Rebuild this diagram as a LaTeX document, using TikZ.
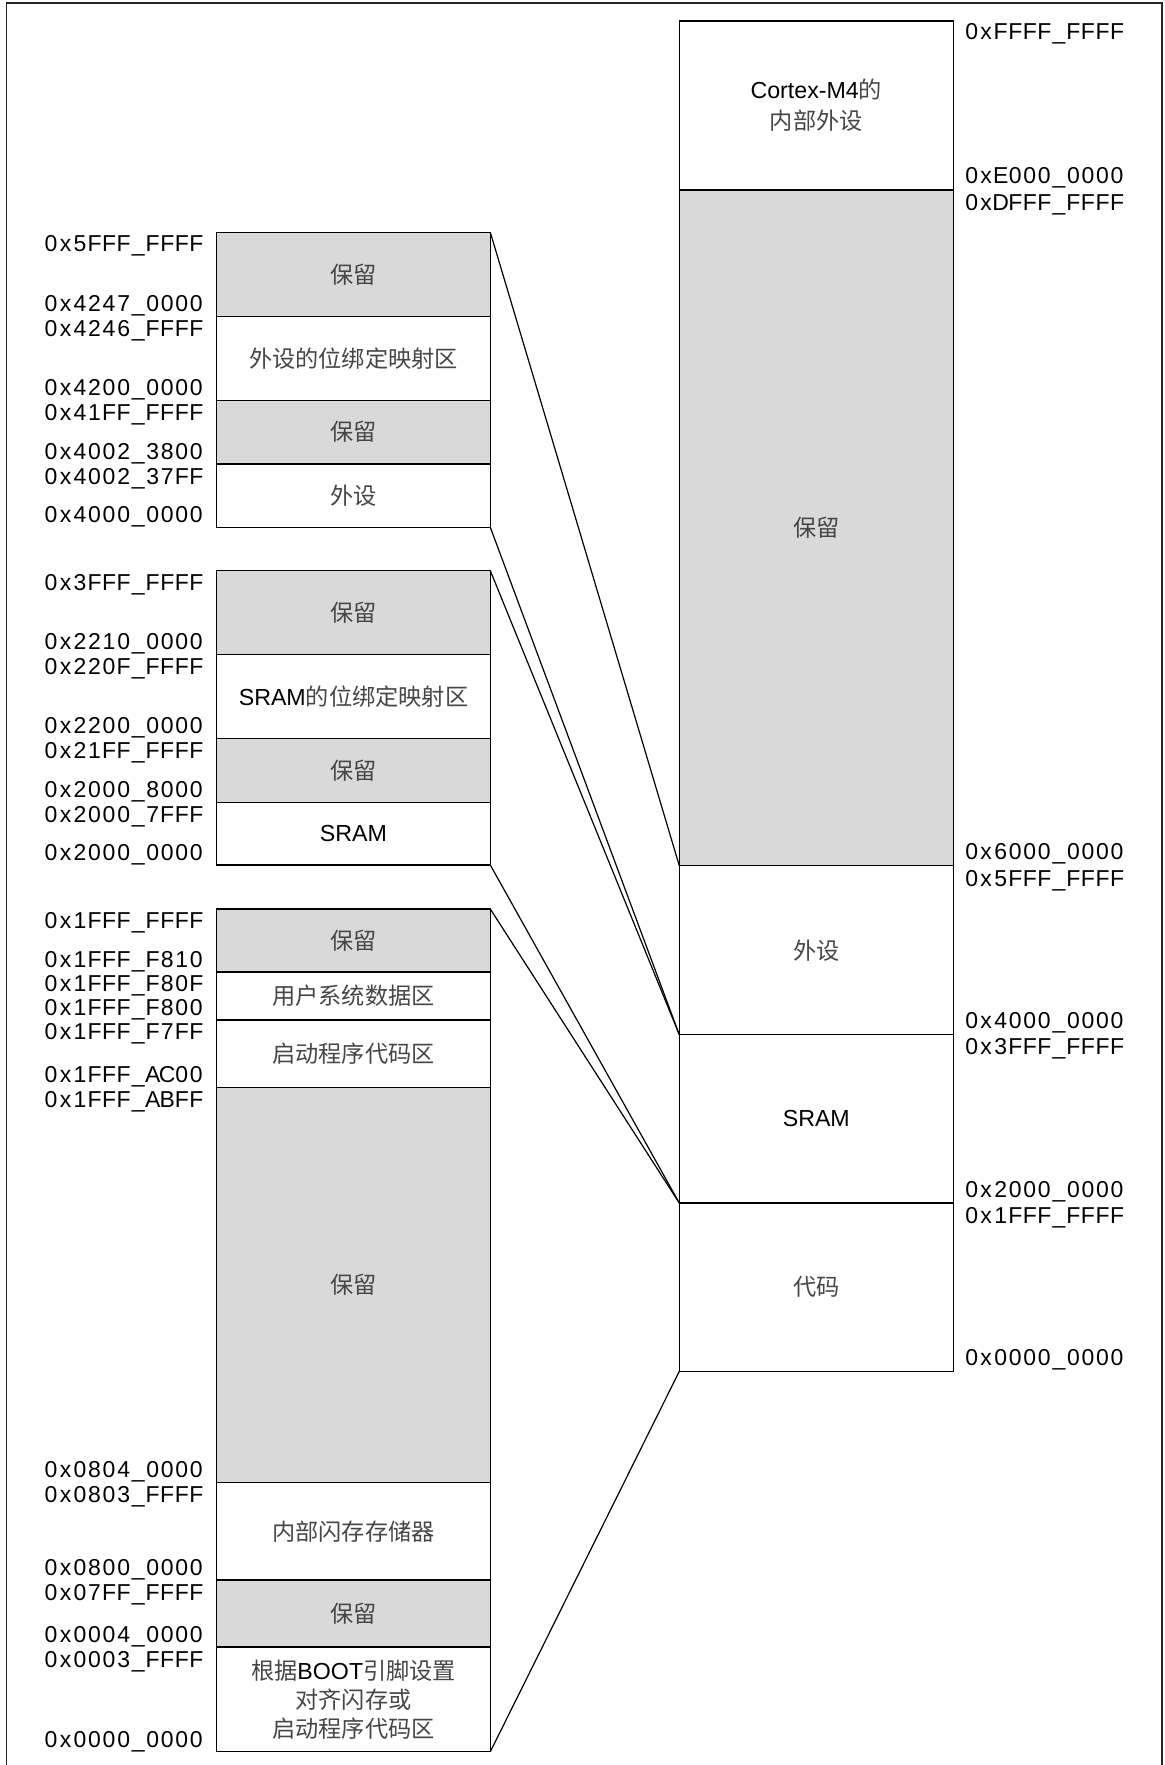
\documentclass[tikz,border=0pt]{standalone}
\usepackage{fontspec}
\setmainfont{Liberation Sans}
\newfontfamily\cjk{Noto Sans CJK SC}
\definecolor{resv}{HTML}{D9D9D9}
\definecolor{cjkgray}{HTML}{464646}
\newcommand\zh[1]{{\cjk\color{cjkgray}#1}}
\newlength\monow
\setlength\monow{7.27pt}
\def\mono#1{\monoA#1\relax}
\def\monoA#1{\ifx#1\relax\else\makebox[\monow][c]{\ifx#1_\_\else#1\fi}\expandafter\monoA\fi}
\tikzset{
  membox/.style={draw=black, line width=0.6pt, inner sep=0pt, outer sep=0pt, align=center,
    font=\fontsize{11.6pt}{15pt}\selectfont, fill=white},
  resbox/.style={membox, fill=resv},
  addrtxt/.style={anchor=base west, inner sep=0pt, font=\fontsize{11.5pt}{13pt}\selectfont},
  link/.style={line width=0.6pt, draw=black},
  frameline/.style={draw=black!85, line width=0.8pt}
}
\newcommand\lbox[5]{\node[#4, minimum width=136.8pt, minimum height={(#3-#2)*0.5pt}] (#1) at (353.5,{(#2+#3)/2}) {#5};}
\newcommand\rbox[5]{\node[#4, minimum width=137pt, minimum height={(#3-#2)*0.5pt}] (#1) at (816.3,{(#2+#3)/2}) {#5};}
\newcommand\laddr[3]{\node[addrtxt] (#1) at (43.3,#2) {\mono{#3}};}
\newcommand\raddr[3]{\node[addrtxt] (#1) at (964,#2) {\mono{#3}};}
\begin{document}
\begin{tikzpicture}[x=0.5pt,y=-0.5pt]
\useasboundingbox[fill=white] (0,0) rectangle (1165,1765);
\draw[frameline] (6.5,1768) -- (6.5,3) -- (1161.7,3) -- (1161.7,1768);

% left column, group 1
\lbox{g1a}{232.3}{316.3}{resbox}{\zh{保留}}
\lbox{g1b}{316.3}{400.3}{membox}{\zh{外设的位绑定映射区}}
\lbox{g1c}{400.3}{464}{resbox}{\zh{保留}}
\lbox{g1d}{464}{527.3}{membox}{\zh{外设}}
% group 2
\lbox{g2a}{570.7}{654.5}{resbox}{\zh{保留}}
\lbox{g2b}{654.5}{738.3}{membox}{SRAM\zh{的位绑定映射区}}
\lbox{g2c}{738.3}{802.2}{resbox}{\zh{保留}}
\lbox{g2d}{802.2}{865}{membox}{SRAM}
% group 3
\lbox{g3a}{909}{972}{resbox}{\zh{保留}}
\lbox{g3b}{972}{1020}{membox}{\zh{用户系统数据区}}
\lbox{g3c}{1020}{1087.3}{membox}{\zh{启动程序代码区}}
\lbox{g3d}{1087.3}{1482.6}{resbox}{\zh{保留}}
\lbox{g3e}{1482.6}{1580}{membox}{\zh{内部闪存存储器}}
\lbox{g3f}{1580}{1647}{resbox}{\zh{保留}}
\lbox{g3g}{1647}{1751.7}{membox,font=\fontsize{11.6pt}{14.5pt}\selectfont}{\zh{根据}BOOT\zh{引脚设置}\\\zh{对齐闪存或}\\\zh{启动程序代码区}}

% right column
\rbox{r1}{21}{190}{membox,font=\fontsize{11.6pt}{15.5pt}\selectfont}{Cortex-M4\zh{的}\\\zh{内部外设}}
\rbox{r2}{190}{865.7}{resbox}{\zh{保留}}
\rbox{r3}{865.7}{1034.7}{membox}{\zh{外设}}
\rbox{r4}{1034.7}{1203}{membox}{SRAM}
\rbox{r5}{1203}{1371.3}{membox}{\zh{代码}}

% connectors
\draw[link] (g1a.north east) -- (r2.south west);
\draw[link] (g1d.south east) -- (r3.south west);
\draw[link] (g2a.north east) -- (r4.north west);
\draw[link] (g2d.south east) -- (r4.south west);
\draw[link] (g3a.north east) -- (r5.north west);
\draw[link] (g3g.south east) -- (r5.south west);

% left addresses
\laddr{a1}{251.8}{0x5FFF_FFFF}
\laddr{a2}{311.3}{0x4247_0000}
\laddr{a3}{336}{0x4246_FFFF}
\laddr{a4}{395.3}{0x4200_0000}
\laddr{a5}{420}{0x41FF_FFFF}
\laddr{a6}{459}{0x4002_3800}
\laddr{a7}{484}{0x4002_37FF}
\laddr{a8}{522.8}{0x4000_0000}
\laddr{b1}{590.2}{0x3FFF_FFFF}
\laddr{b2}{649.5}{0x2210_0000}
\laddr{b3}{674.5}{0x220F_FFFF}
\laddr{b4}{733.3}{0x2200_0000}
\laddr{b5}{758}{0x21FF_FFFF}
\laddr{b6}{797.2}{0x2000_8000}
\laddr{b7}{822}{0x2000_7FFF}
\laddr{b8}{860.5}{0x2000_0000}
\laddr{c1}{928.5}{0x1FFF_FFFF}
\laddr{c2}{967}{0x1FFF_F810}
\laddr{c3}{991.5}{0x1FFF_F80F}
\laddr{c4}{1015.5}{0x1FFF_F800}
\laddr{c5}{1039.5}{0x1FFF_F7FF}
\laddr{c6}{1082.3}{0x1FFF_AC00}
\laddr{c7}{1107}{0x1FFF_ABFF}
\laddr{c8}{1477.6}{0x0804_0000}
\laddr{c9}{1502}{0x0803_FFFF}
\laddr{c10}{1575}{0x0800_0000}
\laddr{c11}{1600.5}{0x07FF_FFFF}
\laddr{c12}{1642}{0x0004_0000}
\laddr{c13}{1667.5}{0x0003_FFFF}
\laddr{c14}{1747.2}{0x0000_0000}

% right addresses
\raddr{d1}{40}{0xFFFF_FFFF}
\raddr{d2}{184}{0xE000_0000}
\raddr{d3}{210.5}{0xDFFF_FFFF}
\raddr{d4}{859.5}{0x6000_0000}
\raddr{d5}{886}{0x5FFF_FFFF}
\raddr{d6}{1028.5}{0x4000_0000}
\raddr{d7}{1054.5}{0x3FFF_FFFF}
\raddr{d8}{1197}{0x2000_0000}
\raddr{d9}{1223.5}{0x1FFF_FFFF}
\raddr{d10}{1365.5}{0x0000_0000}
\end{tikzpicture}
\end{document}
